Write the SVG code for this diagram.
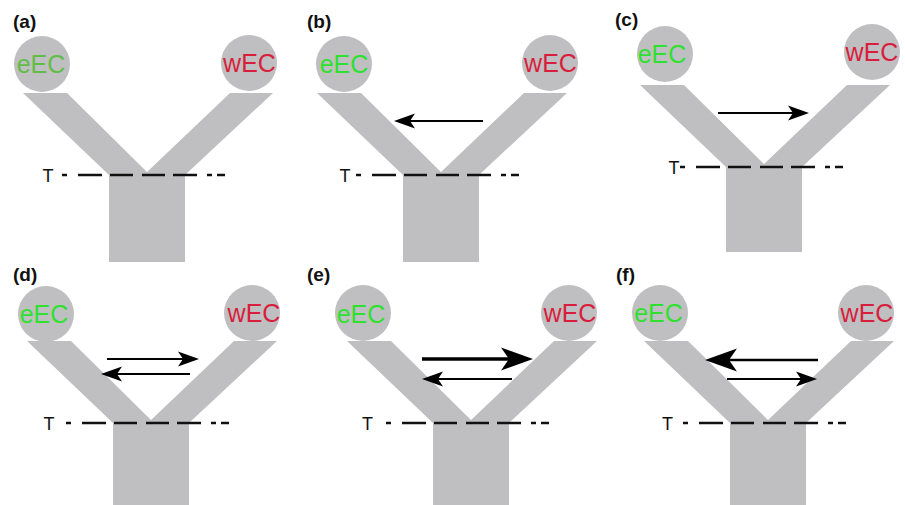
<svg xmlns="http://www.w3.org/2000/svg" width="905" height="505" viewBox="0 0 905 505">
<style>
.bg{fill:#ffffff}
.y{fill:#bfbfc1}
.c{fill:#bfbfc1}
.lab{font-family:"Liberation Sans",Arial,sans-serif;font-weight:bold;font-size:19px;fill:#111}
.ec{font-family:"Liberation Sans",Arial,sans-serif;font-size:25px;text-anchor:middle}
.g{fill:#2fe02f}
.g0{fill:#62bd48}
.r{fill:#d81e3c}
.tt{font-family:"Liberation Sans",Arial,sans-serif;font-size:18px;fill:#111111;text-anchor:middle}
.dl{stroke:#111;stroke-width:2.7;fill:none;stroke-dasharray:5 11 24 8 23 9 23 8 24 10 5 5 8 100}
.ar{stroke:#000;stroke-width:2;fill:none;marker-end:url(#ah)}
.arb{stroke:#000;fill:none;marker-end:url(#ahb)}
</style>
<defs>
<marker id="ah" markerUnits="userSpaceOnUse" markerWidth="22" markerHeight="16" viewBox="0 0 22 16" refX="5" refY="7.5" orient="auto" overflow="visible"><path d="M0,0 L21,7.5 L0,15 L5,7.5 Z" fill="#000"/></marker>
<marker id="ahb" markerUnits="userSpaceOnUse" markerWidth="33" markerHeight="24" viewBox="0 0 33 24" refX="8" refY="11.5" orient="auto" overflow="visible"><path d="M0,0 L32,11.5 L0,23 L8,11.5 Z" fill="#000"/></marker>
</defs>
<rect class="bg" x="0" y="0" width="905" height="505"/>

<g id="panel-a">
<text class="lab" x="13" y="28">(a)</text>
<polygon class="y" transform="translate(109,175)" points="-86,-82 -42,-82 38,-3 121,-82 164,-82 76,0 76,87 0,87 0,0"/>
<g id="a-eEC"><circle class="c" cx="42" cy="64" r="28"/><text class="ec g0" x="41" y="73">eEC</text></g>
<g id="a-wEC"><circle class="c" cx="249" cy="63" r="28"/><text class="ec r" x="249.5" y="72">wEC</text></g>
<g id="a-T"><text class="tt" x="48" y="181.5">T</text><line class="dl" x1="62" y1="175" x2="225" y2="175"/></g>
</g>

<g id="panel-b">
<text class="lab" x="307" y="28">(b)</text>
<polygon class="y" transform="translate(403,175)" points="-86,-82 -42,-82 38,-3 121,-82 164,-82 76,0 76,87 0,87 0,0"/>
<g id="b-eEC"><circle class="c" cx="344" cy="64" r="28"/><text class="ec g" x="344" y="73">eEC</text></g>
<g id="b-wEC"><circle class="c" cx="550" cy="63" r="28"/><text class="ec r" x="550.5" y="72">wEC</text></g>
<g id="b-T"><text class="tt" x="345" y="181.5">T</text><line class="dl" x1="356" y1="175" x2="519" y2="175"/></g>
</g>

<g id="panel-c">
<text class="lab" x="615" y="26">(c)</text>
<polygon class="y" transform="translate(726,167)" points="-86,-82 -42,-82 38,-3 121,-82 164,-82 76,0 76,85 0,85 0,0"/>
<g id="c-eEC"><circle class="c" cx="665" cy="54" r="28"/><text class="ec g" x="662" y="63">eEC</text></g>
<g id="c-wEC"><circle class="c" cx="872" cy="52" r="28"/><text class="ec r" x="872" y="61">wEC</text></g>
<g id="c-T"><text class="tt" x="674" y="173.5">T</text><line class="dl" x1="680" y1="167" x2="843" y2="167"/></g>
</g>

<g id="panel-d">
<text class="lab" x="13" y="281">(d)</text>
<polygon class="y" transform="translate(113,423)" points="-86,-82 -42,-82 38,-3 121,-82 164,-82 76,0 76,90 0,90 0,0"/>
<g id="d-eEC"><circle class="c" cx="46" cy="314" r="28"/><text class="ec g" x="44" y="323">eEC</text></g>
<g id="d-wEC"><circle class="c" cx="252" cy="313" r="28"/><text class="ec r" x="254" y="322">wEC</text></g>
<g id="d-T"><text class="tt" x="49" y="429.5">T</text><line class="dl" x1="66" y1="423" x2="229" y2="423"/></g>
</g>

<g id="panel-e">
<text class="lab" x="307" y="281">(e)</text>
<polygon class="y" transform="translate(433,423)" points="-86,-82 -42,-82 38,-3 121,-82 164,-82 76,0 76,90 0,90 0,0"/>
<g id="e-eEC"><circle class="c" cx="363" cy="313" r="28"/><text class="ec g" x="361" y="323">eEC</text></g>
<g id="e-wEC"><circle class="c" cx="569" cy="313" r="28"/><text class="ec r" x="570" y="322">wEC</text></g>
<g id="e-T"><text class="tt" x="367.5" y="429.5">T</text><line class="dl" x1="386" y1="423" x2="549" y2="423"/></g>
</g>

<g id="panel-f">
<text class="lab" x="616" y="281">(f)</text>
<polygon class="y" transform="translate(730,423)" points="-86,-82 -42,-82 38,-3 121,-82 164,-82 76,0 76,90 0,90 0,0"/>
<g id="f-eEC"><circle class="c" cx="660" cy="313" r="28"/><text class="ec g" x="658.5" y="322">eEC</text></g>
<g id="f-wEC"><circle class="c" cx="866" cy="313" r="28"/><text class="ec r" x="867" y="322">wEC</text></g>
<g id="f-T"><text class="tt" x="667.5" y="429.5">T</text><line class="dl" x1="683" y1="423" x2="846" y2="423"/></g>
</g>

<g id="connectors">
<line class="ar" x1="483" y1="121" x2="410" y2="121"/>
<line class="ar" x1="718" y1="113" x2="793" y2="113"/>
<line class="ar" x1="107" y1="359" x2="183" y2="359"/>
<line class="ar" x1="190" y1="374" x2="117" y2="374"/>
<line class="arb" stroke-width="3.3" x1="422" y1="359" x2="509" y2="359"/>
<line class="ar" x1="512" y1="379" x2="438" y2="379"/>
<line class="arb" stroke-width="2.5" x1="818" y1="360" x2="729" y2="360"/>
<line class="ar" x1="727" y1="379" x2="801" y2="379"/>
</g>
</svg>
